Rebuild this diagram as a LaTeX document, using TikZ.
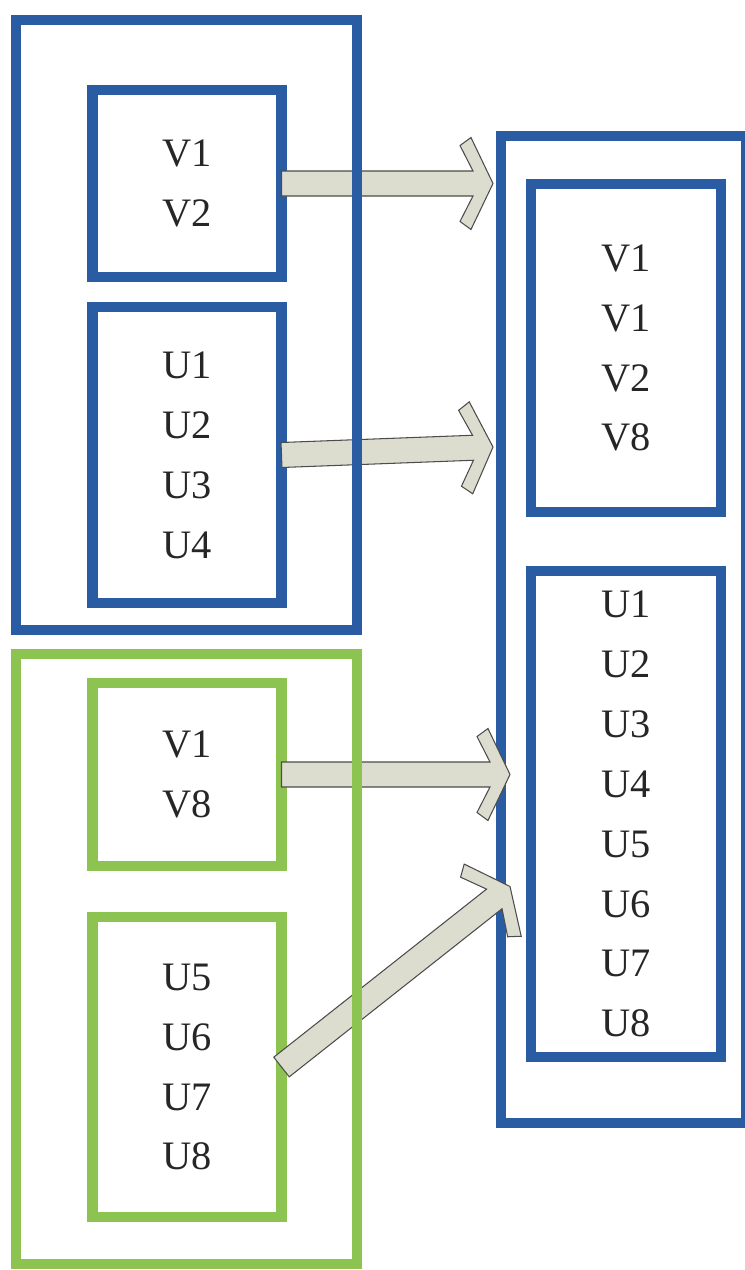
\documentclass[tikz,border=0pt]{standalone}
\usepackage{fontspec}
\setmainfont{Liberation Serif}
\usetikzlibrary{calc}
\definecolor{frameblue}{RGB}{42,92,164}
\definecolor{framegreen}{RGB}{141,195,80}
\definecolor{arrowfill}{RGB}{221,221,207}
\begin{document}
\begin{tikzpicture}[
		frame/.style={draw, line width=6.2pt, minimum width=#1, inner sep=2pt, outer sep=0pt},
		bluebox/.style={frame=#1, draw=frameblue},
		greenbox/.style={frame=#1, draw=framegreen},
		items/.style={align=center, text=black!85, font={\fontsize{23}{34.1}\selectfont}},
		blockarrow/.style={fill=arrowfill, draw=black!70, line width=0.6pt, line join=miter}
		]
		\useasboundingbox (0,0) rectangle (14.9,-25.4);
		% vung ben phai
		\node[bluebox=4.9cm, minimum height=19.74cm] (grpR) at (12.47,-12.59) {};
		\node[bluebox=3.8cm, minimum height=6.56cm, items] (rV) at (12.52,-6.96) {V1\\V1\\V2\\V8};
		\node[bluebox=3.8cm, minimum height=9.72cm, items] (rU) at (12.52,-16.28) {U1\\U2\\U3\\U4\\U5\\U6\\U7\\U8};
		% cac hop nho ben trai
		\node[bluebox=3.78cm, minimum height=3.74cm, items] (aV) at (3.74,-3.67) {V1\\V2};
		\node[bluebox=3.78cm, minimum height=5.92cm, items] (aU) at (3.74,-9.1) {U1\\U2\\U3\\U4};
		\node[greenbox=3.78cm, minimum height=3.66cm, items] (bV) at (3.74,-15.49) {V1\\V8};
		\node[greenbox=3.78cm, minimum height=6cm, items] (bU) at (3.74,-21.34) {U5\\U6\\U7\\U8};
		% dau mui ten
		\coordinate (t1) at ($(aV.east -| grpR.west)+(-0.16,0)$);
		\coordinate (t2) at ($(aU.east -| grpR.west)+(-0.16,0.16)$);
		\coordinate (t3) at ($(bV.east -| grpR.west)+(0.18,0)$);
		\coordinate (t4) at ($(bV.east -| grpR.west)+(0.18,-2.24)$);
		\foreach \s/\t in {aV.east/t1, aU.east/t2, bV.east/t3, bU.east/t4}
		\draw[blockarrow] ($(\s)!0.25cm!90:(\t)$) -- ($(\t)!0.472cm!-32:(\s)$)
			-- ($(\t)!1.006cm!-49:(\s)$) -- ($(\t)!1.02cm!-64.4:(\s)$) -- (\t)
			-- ($(\t)!1.02cm!64.4:(\s)$) -- ($(\t)!1.006cm!49:(\s)$)
			-- ($(\t)!0.472cm!32:(\s)$) -- ($(\s)!0.25cm!-90:(\t)$) -- cycle;
		% khung ngoai ben trai (ve sau mui ten)
		\node[bluebox=6.82cm, minimum height=12.2cm] (grpA) at (3.73,-6.5) {};
		\node[greenbox=6.82cm, minimum height=12.2cm] (grpB) at (3.73,-19.18) {};
\end{tikzpicture}
\end{document}
